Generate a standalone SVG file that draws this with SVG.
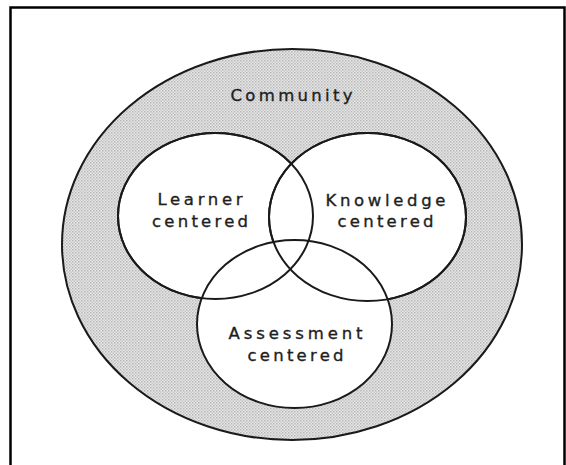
<svg xmlns="http://www.w3.org/2000/svg" width="566" height="465" viewBox="0 0 566 465">
  <defs>
    <pattern id="dots" width="3" height="3" patternUnits="userSpaceOnUse">
      <rect width="3" height="3" fill="#e6e6e6"/>
      <rect x="0" y="0" width="1.5" height="1.5" fill="#b8b8b8"/>
      <rect x="1.5" y="1.5" width="1.5" height="1.5" fill="#c8c8c8"/>
    </pattern>
  </defs>
  <style>
    .ring { fill: #ffffff; stroke: #1a1a1a; stroke-width: 2; }
    .ringline { fill: none; stroke: #1a1a1a; stroke-width: 2; }
    .lbl { font-family: "DejaVu Sans", Verdana, sans-serif; font-size: 16.5px; fill: #1e1e1e; stroke: #1e1e1e; stroke-width: 0.35; text-anchor: middle; }
  </style>
  <rect width="566" height="465" fill="#ffffff"/>
  <g id="frame">
    <path d="M10.5 465 V7.5 H564.5 V465" fill="none" stroke="#000000" stroke-width="2.5"/>
  </g>
  <g id="community">
    <ellipse cx="292" cy="244.5" rx="230" ry="195.5" fill="url(#dots)" stroke="#1a1a1a" stroke-width="2"/>
    <text class="lbl" x="291.5" y="101" textLength="122" lengthAdjust="spacing">Community</text>
  </g>
  <g id="learner">
    <ellipse class="ring" cx="215.5" cy="216" rx="97.5" ry="83"/>
  </g>
  <g id="knowledge">
    <ellipse class="ring" cx="367.5" cy="217" rx="98.5" ry="84"/>
  </g>
  <g id="assessment">
    <ellipse class="ring" cx="294.5" cy="324" rx="97.5" ry="84"/>
  </g>
  <g id="outlines">
    <ellipse class="ringline" cx="215.5" cy="216" rx="97.5" ry="83"/>
    <ellipse class="ringline" cx="367.5" cy="217" rx="98.5" ry="84"/>
  </g>
  <g id="labels">
    <text class="lbl" x="200" y="205" textLength="85" lengthAdjust="spacing">Learner</text>
    <text class="lbl" x="200" y="227" textLength="96" lengthAdjust="spacing">centered</text>
    <text class="lbl" x="385.5" y="206" textLength="120" lengthAdjust="spacing">Knowledge</text>
    <text class="lbl" x="385.5" y="227" textLength="96" lengthAdjust="spacing">centered</text>
    <text class="lbl" x="295.5" y="339" textLength="134" lengthAdjust="spacing">Assessment</text>
    <text class="lbl" x="295.5" y="361" textLength="96" lengthAdjust="spacing">centered</text>
  </g>
</svg>
